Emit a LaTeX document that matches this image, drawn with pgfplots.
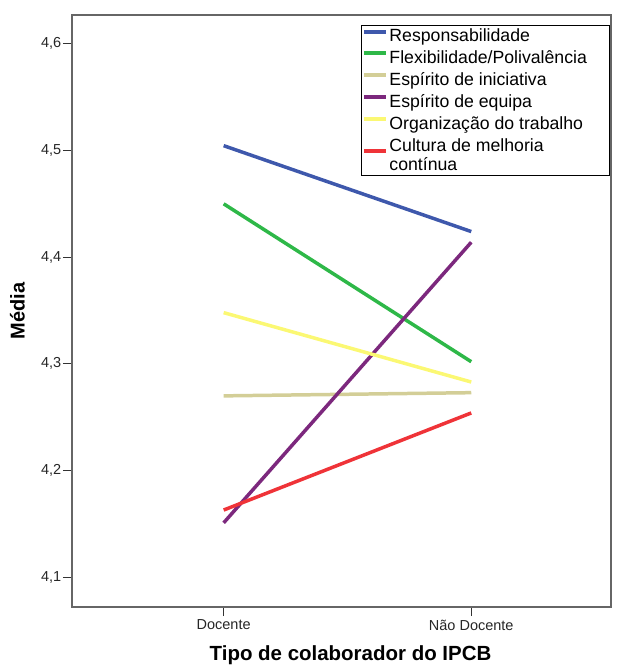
\documentclass[border=0pt]{standalone}
\usepackage{fontspec}
\setmainfont{Liberation Sans}
\usepackage{pgfplots}
\pgfplotsset{compat=1.18}
\definecolor{cblue}{RGB}{62,88,172}
\definecolor{cgreen}{RGB}{46,184,72}
\definecolor{ctan}{RGB}{211,206,151}
\definecolor{cpurple}{RGB}{124,40,125}
\definecolor{cyellow}{RGB}{251,248,115}
\definecolor{cred}{RGB}{239,51,56}
\begin{document}
\begin{tikzpicture}
\begin{axis}[name=ax, scale only axis, width=540pt, height=593pt,
  xmin=-0.613, xmax=1.565, ymin=4.072, ymax=4.627,
  xtick={0,1}, xticklabels={Docente, Não Docente},
  ytick={4.1,4.2,4.3,4.4,4.5,4.6},
  tick align=outside, xtick pos=left, ytick pos=left,
  major tick length=9pt,
  axis line style={draw=black!60, line width=1.6pt},
  every tick/.style={black!80, line width=1.2pt},
  /pgf/number format/assume math mode=true,
  yticklabel style={inner xsep=1.5pt, /pgf/number format/.cd, use comma, fixed, fixed zerofill, precision=1},
  ticklabel style={font=\fontsize{14.5}{16}\selectfont, text=black!85},
  xlabel={Tipo de colaborador do IPCB}, ylabel={Média},
  xlabel style={font=\bfseries\fontsize{20.5}{22}\selectfont, at={(axis description cs:0.5167,-0.090)}, anchor=base},
  ylabel style={font=\bfseries\fontsize{20}{22}\selectfont, at={(axis description cs:-0.101,0.5)}, anchor=center},
  legend style={at={(axis description cs:0.998,0.983)}, anchor=north east,
    draw=black, line width=0.8pt, fill=white, inner xsep=1pt, inner ysep=1pt,
    font=\fontsize{17.7}{17}\selectfont, row sep=2.5pt,
    nodes={inner xsep=1.5pt, inner ysep=2.5pt},
    cells={anchor=west, align=left}},
  legend image code/.code={\draw[#1, line width=4pt] (0pt,0.45em) -- (22pt,0.45em);},
  every axis plot/.append style={line width=3.5pt},
  clip=false,
]
\addplot[cblue] coordinates {(0,4.5045) (1,4.424)};
\addlegendentry{\strut Responsabilidade}
\addplot[cgreen] coordinates {(0,4.450) (1,4.302)};
\addlegendentry{\makebox[218pt][l]{\strut Flexibilidade/Polivalência}}
\addplot[ctan] coordinates {(0,4.270) (1,4.273)};
\addlegendentry{\strut Espírito de iniciativa}
\addplot[cpurple] coordinates {(0,4.151) (1,4.414)};
\addlegendentry{\strut Espírito de equipa}
\addplot[cyellow] coordinates {(0,4.348) (1,4.283)};
\addlegendentry{\strut Organização do trabalho}
\addplot[cred] coordinates {(0,4.163) (1,4.254)};
\addlegendentry{\strut Cultura de melhoria\\contínua\strut}
\end{axis}
\path ([shift={(-72pt,-60pt)}]ax.south west) rectangle ([shift={(7pt,15pt)}]ax.north east);
\end{tikzpicture}
\end{document}
